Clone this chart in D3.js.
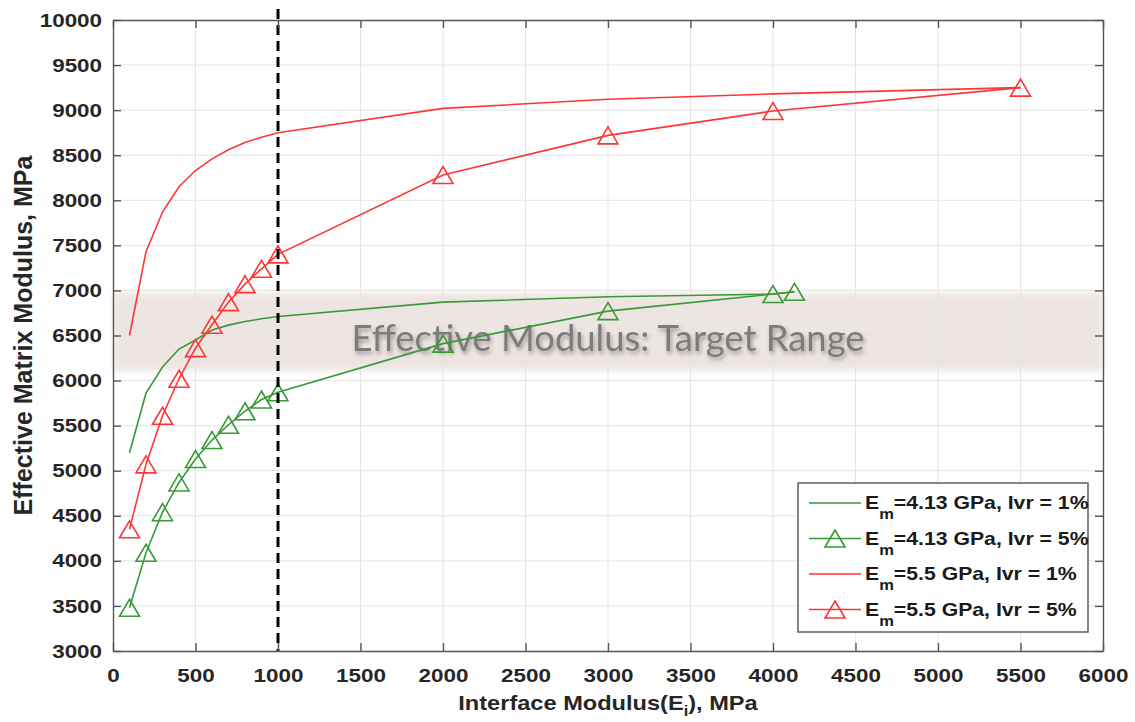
<!DOCTYPE html>
<html>
<head>
<meta charset="utf-8">
<script src="https://cdn.jsdelivr.net/npm/d3@7"></script>
<style>
  body { margin: 0; background: #fff; }
  svg { display: block; font-family: "Liberation Sans", Arial, sans-serif; }
</style>
</head>
<body>
<div id="chart"></div>
<script>
// interface modulus values (MPa) for each curve
const eiGreen = [100, 200, 300, 400, 500, 600, 700, 800, 900, 1000, 2000, 3000, 4000, 4130];
const eiRed = [100, 200, 300, 400, 500, 600, 700, 800, 900, 1000, 2000, 3000, 4000, 5500];

// effective matrix modulus (MPa)
const green1 = [5200, 5860, 6150, 6350, 6450, 6560, 6615, 6655, 6685, 6710, 6870, 6930, 6960, 6985];
const green5 = [3480, 4090, 4540, 4870, 5130, 5340, 5510, 5660, 5790, 5870, 6410, 6770, 6960, 6985];
const red1 = [6500, 7430, 7870, 8150, 8330, 8460, 8560, 8640, 8700, 8750, 9020, 9120, 9180, 9250];
const red5 = [4350, 5070, 5610, 6020, 6360, 6620, 6870, 7070, 7240, 7400, 8280, 8720, 8990, 9250];

const seriesNames = ["=4.13 GPa, Ivr = 1%", "=4.13 GPa, Ivr = 5%", "=5.5 GPa, Ivr = 1%", "=5.5 GPa, Ivr = 5%"];
const xTicks = [0, 500, 1000, 1500, 2000, 2500, 3000, 3500, 4000, 4500, 5000, 5500, 6000];
const yTicks = [3000, 3500, 4000, 4500, 5000, 5500, 6000, 6500, 7000, 7500, 8000, 8500, 9000, 9500, 10000];
const targetRange = [6110, 6975];
const targetLabel = "Effective Modulus: Target Range";
const cutoffEi = 1000;

const GREEN = "#379a37", RED = "#ff3535";

const series = [
  { name: seriesNames[0], xs: eiGreen, ys: green1, color: GREEN, marker: false },
  { name: seriesNames[1], xs: eiGreen, ys: green5, color: GREEN, marker: true },
  { name: seriesNames[2], xs: eiRed, ys: red1, color: RED, marker: false },
  { name: seriesNames[3], xs: eiRed, ys: red5, color: RED, marker: true }
];

const W = 1135, H = 722;
const x = d3.scaleLinear().domain([0, 6000]).range([113, 1103]);
const y = d3.scaleLinear().domain([3000, 10000]).range([651, 20]);
const stretch = "scale(1.18,1)";
const fmt = d3.format("d");

const svg = d3.select("#chart").append("svg")
  .attr("width", W)
  .attr("height", H);

const defs = svg.append("defs");
defs.append("filter").attr("id", "soft")
  .attr("x", "-5%").attr("y", "-30%").attr("width", "110%").attr("height", "160%")
  .append("feGaussianBlur").attr("stdDeviation", 3);
defs.append("filter").attr("id", "shadow")
  .attr("x", "-5%").attr("y", "-30%").attr("width", "110%").attr("height", "160%")
  .append("feDropShadow")
  .attr("dx", 1.5).attr("dy", 3).attr("stdDeviation", 2)
  .attr("flood-color", "#000").attr("flood-opacity", 0.35);

// target band
svg.append("rect")
  .attr("x", x(0))
  .attr("y", y(targetRange[1]))
  .attr("width", x(6000) - x(0))
  .attr("height", y(targetRange[0]) - y(targetRange[1]))
  .attr("fill", "#ede5e1")
  .attr("filter", "url(#soft)");

// grid
svg.append("g").selectAll("line")
  .data(xTicks.slice(1, -1))
  .enter().append("line")
  .attr("x1", d => x(d)).attr("x2", d => x(d))
  .attr("y1", y(3000)).attr("y2", y(10000))
  .attr("stroke", "#e4e4e4").attr("stroke-width", 1);
svg.append("g").selectAll("line")
  .data(yTicks.slice(1, -1))
  .enter().append("line")
  .attr("x1", x(0)).attr("x2", x(6000))
  .attr("y1", d => y(d)).attr("y2", d => y(d))
  .attr("stroke", "#e4e4e4").attr("stroke-width", 1);

// band label
svg.append("text")
  .attr("x", (x(0) + x(6000)) / 2)
  .attr("y", 351)
  .attr("text-anchor", "middle")
  .attr("font-family", "Lato, 'Open Sans', sans-serif")
  .attr("font-size", 37)
  .attr("textLength", 513)
  .attr("lengthAdjust", "spacingAndGlyphs")
  .attr("fill", "#7b7b7b")
  .attr("filter", "url(#shadow)")
  .text(targetLabel);

// curves
const line = d3.line()
  .x(d => x(d[0]))
  .y(d => y(d[1]));

const tri = "M0,-8.5L10,8.5L-10,8.5Z";

series.forEach(s => {
  const pts = s.xs.map((v, i) => [v, s.ys[i]]);
  svg.append("path")
    .datum(pts)
    .attr("d", line)
    .attr("fill", "none")
    .attr("stroke", s.color)
    .attr("stroke-width", 1.6);
  if (s.marker) {
    svg.append("g").selectAll("path")
      .data(pts)
      .enter().append("path")
      .attr("d", tri)
      .attr("transform", d => `translate(${x(d[0])},${y(d[1])})`)
      .attr("fill", "none")
      .attr("stroke", s.color)
      .attr("stroke-width", 1.6);
  }
});

// cutoff line
svg.append("line")
  .attr("x1", x(cutoffEi)).attr("x2", x(cutoffEi))
  .attr("y1", y(10000) - 11).attr("y2", y(3000))
  .attr("stroke", "#000")
  .attr("stroke-width", 3)
  .attr("stroke-dasharray", "10,6");

// axes
const axisColor = "#555";
const xAxis = svg.append("g")
  .attr("transform", `translate(0,${y(3000)})`)
  .call(d3.axisBottom(x).tickValues(xTicks).tickFormat(fmt).tickSize(-8).tickSizeOuter(0).tickPadding(17.5));
const yAxis = svg.append("g")
  .attr("transform", `translate(${x(0)},0)`)
  .call(d3.axisLeft(y).tickValues(yTicks).tickFormat(fmt).tickSize(-8).tickSizeOuter(0).tickPadding(9.3));
const topAxis = svg.append("g")
  .attr("transform", `translate(0,${y(10000)})`)
  .call(d3.axisTop(x).tickValues(xTicks).tickSize(-8).tickSizeOuter(0).tickFormat(""));
const rightAxis = svg.append("g")
  .attr("transform", `translate(${x(6000)},0)`)
  .call(d3.axisRight(y).tickValues(yTicks).tickSize(-8).tickSizeOuter(0).tickFormat(""));

[xAxis, yAxis, topAxis, rightAxis].forEach(g => {
  g.select(".domain").attr("stroke", axisColor).attr("stroke-width", 1.4);
  g.selectAll(".tick line").attr("stroke", axisColor).attr("stroke-width", 1.4);
  g.selectAll(".tick text")
    .attr("font-family", "'Liberation Sans', Arial, sans-serif")
    .attr("font-size", 19)
    .attr("font-weight", "bold")
    .attr("fill", "#262626")
    .attr("transform", stretch);
});

// axis titles
const xTitle = svg.append("text")
  .attr("transform", `translate(${(x(0) + x(6000)) / 2},710) ${stretch}`)
  .attr("text-anchor", "middle")
  .attr("font-size", 20)
  .attr("font-weight", "bold")
  .attr("fill", "#262626");
xTitle.append("tspan").text("Interface Modulus(E");
xTitle.append("tspan").attr("font-size", 14).attr("dy", 6).text("i");
xTitle.append("tspan").attr("dy", -6).text("), MPa");

svg.append("text")
  .attr("transform", `translate(32,${(y(3000) + y(10000)) / 2}) rotate(-90)`)
  .attr("text-anchor", "middle")
  .attr("font-size", 25)
  .attr("font-weight", "bold")
  .attr("fill", "#262626")
  .text("Effective Matrix Modulus, MPa");

// legend
const legend = svg.append("g").attr("transform", "translate(798,483)");
legend.append("rect")
  .attr("width", 290).attr("height", 149)
  .attr("fill", "#fff")
  .attr("stroke", "#555")
  .attr("stroke-width", 1.4);

series.forEach((s, i) => {
  const row = legend.append("g").attr("transform", `translate(0,${20 + i * 35.5})`);
  row.append("line")
    .attr("x1", 11).attr("x2", 63)
    .attr("stroke", s.color).attr("stroke-width", 1.6);
  if (s.marker) {
    row.append("path")
      .attr("d", tri)
      .attr("transform", "translate(37,0)")
      .attr("fill", "none")
      .attr("stroke", s.color)
      .attr("stroke-width", 1.6);
  }
  const t = row.append("text")
    .attr("transform", `translate(67,6) ${stretch}`)
    .attr("font-size", 18)
    .attr("font-weight", "bold")
    .attr("fill", "#1a1a1a");
  t.append("tspan").text("E");
  t.append("tspan").attr("font-size", 14).attr("dy", 10).text("m");
  t.append("tspan").attr("dy", -10).text(s.name);
});
</script>
</body>
</html>
